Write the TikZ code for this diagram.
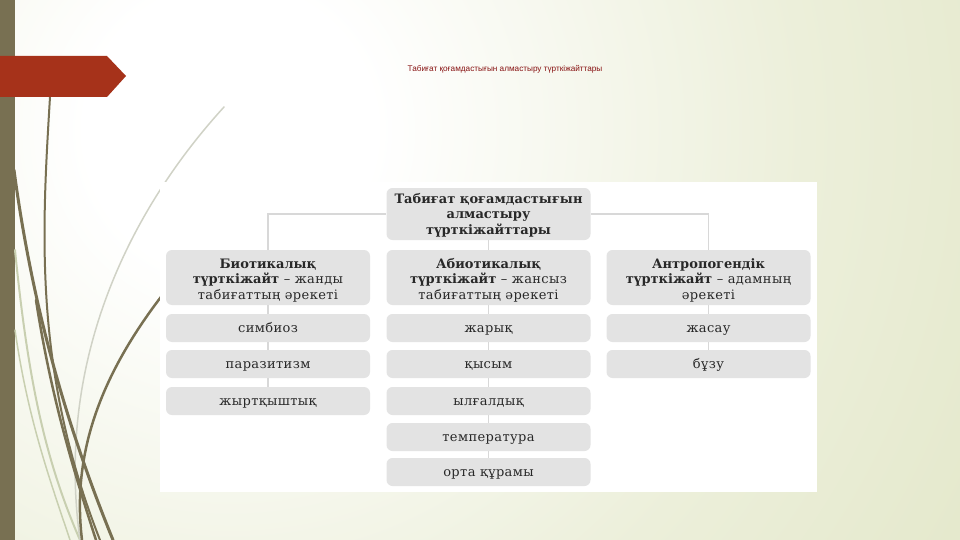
\documentclass[tikz,border=0pt]{standalone}
\usepackage{fontspec}
\setmainfont{DejaVu Serif}[LetterSpace=3, BoldFeatures={LetterSpace=0}]
\newfontfamily\titlefont{Liberation Sans}
\definecolor{bggreen}{RGB}{222,227,192}
\definecolor{bgmid}{RGB}{236,239,218}
\definecolor{barc}{RGB}{120,112,82}
\definecolor{redc}{RGB}{166,50,26}
\definecolor{boxgray}{RGB}{227,227,227}
\definecolor{connc}{RGB}{216,216,216}
\definecolor{textc}{RGB}{40,40,40}
\definecolor{titlec}{RGB}{135,18,18}
\definecolor{lightc}{RGB}{208,210,198}
\definecolor{paleg}{RGB}{200,207,176}
\pgfdeclareradialshading{bgshade}{\pgfpointorigin}{color(0bp)=(white); color(4bp)=(white); color(16bp)=(bgmid); color(30bp)=(bggreen); color(50bp)=(bggreen)}
\newcommand\lvlstrut{\rule{0pt}{15pt}}
\newcommand\topstrut{\rule{0pt}{12.5pt}}
\tikzset{
  box/.style={fill=boxgray, rounded corners=6pt, minimum width=204pt, text=textc,
    align=center, inner sep=0pt, font=\fontsize{13}{15.5}\selectfont},
  topbox/.style={box, minimum height=52pt},
  lvlbox/.style={box, minimum height=55pt},
  itembox/.style={box, minimum height=28pt, text height=10.5pt, text depth=2.5pt},
  conn/.style={draw=connc, line width=1.8pt},
  darkgrass/.style={draw=barc, line cap=round},
  lightgrass/.style={draw=lightc, line cap=round},
  palegrass/.style={draw=paleg, line cap=round}
}
\begin{document}
\begin{tikzpicture}[x=1pt, y=-1pt]
\useasboundingbox (0,0) rectangle (960,540);
% background
\fill[bggreen] (0,0) rectangle (960,540);
\begin{scope}
  \clip (0,0) rectangle (960,540);
  \shade[shading=bgshade] (230,130) circle (900);
\end{scope}
\fill[barc] (0,0) rectangle (15,540);
% grass curves
\draw[palegrass, line width=2pt] (15,250) .. controls (28,380) and (45,460) .. (80,540);
\draw[palegrass, line width=1.5pt] (15,330) .. controls (28,420) and (50,480) .. (70,540);
\draw[lightgrass, line width=1.5pt] (224,107) .. controls (130,210) and (55,360) .. (80,540);
\draw[darkgrass, line width=2pt] (50,97) .. controls (42,230) and (33,370) .. (100,540);
\draw[darkgrass, line width=3pt] (14,170) .. controls (30,290) and (60,410) .. (113,540);
\draw[darkgrass, line width=2.5pt] (36,300) .. controls (50,390) and (70,460) .. (96,540);
\draw[darkgrass, line width=2.5pt] (200,250) .. controls (110,350) and (70,440) .. (82,540);
% red arrow
\fill[redc] (0,56) -- (107,56) -- (126,76) -- (107,97) -- (0,97) -- cycle;
% title
\node (title) at (505,69) {\titlefont\fontsize{8.2}{9}\selectfont\color{titlec}Табиғат қоғамдастығын алмастыру түрткіжайттары};
% panel
\fill[white] (160,182) rectangle (817,492);
% nodes
\node[topbox] (top) at (488.5,214) {\topstrut\textbf{Табиғат қоғамдастығын}\\\textbf{алмастыру}\\\textbf{түрткіжайттары}};
\node[lvlbox] (bio) at (268,277.5) {\lvlstrut\textbf{Биотикалық}\\\textbf{түрткіжайт} – жанды\\табиғаттың әрекеті};
\node[lvlbox] (abio) at (488.5,277.5) {\lvlstrut\textbf{Абиотикалық}\\\textbf{түрткіжайт} – жансыз\\табиғаттың әрекеті};
\node[lvlbox] (anth) at (708.5,277.5) {\lvlstrut\textbf{Антропогендік}\\\textbf{түрткіжайт} – адамның\\әрекеті};
\node[itembox] (b1) at (268,328) {симбиоз};
\node[itembox] (b2) at (268,364) {паразитизм};
\node[itembox] (b3) at (268,401) {жыртқыштық};
\node[itembox] (a1) at (488.5,328) {жарық};
\node[itembox] (a2) at (488.5,364) {қысым};
\node[itembox] (a3) at (488.5,401) {ылғалдық};
\node[itembox] (a4) at (488.5,437) {температура};
\node[itembox] (a5) at (488.5,472) {орта құрамы};
\node[itembox] (c1) at (708.5,328) {жасау};
\node[itembox] (c2) at (708.5,364) {бұзу};
% connectors
\draw[conn] (bio) |- (top);
\draw[conn] (anth) |- (top);
\draw[conn] (top) -- (abio);
\draw[conn] (bio) -- (b1);
\draw[conn] (b1) -- (b2);
\draw[conn] (b2) -- (b3);
\draw[conn] (abio) -- (a1);
\draw[conn] (a1) -- (a2);
\draw[conn] (a2) -- (a3);
\draw[conn] (a3) -- (a4);
\draw[conn] (a4) -- (a5);
\draw[conn] (anth) -- (c1);
\draw[conn] (c1) -- (c2);
\end{tikzpicture}
\end{document}
